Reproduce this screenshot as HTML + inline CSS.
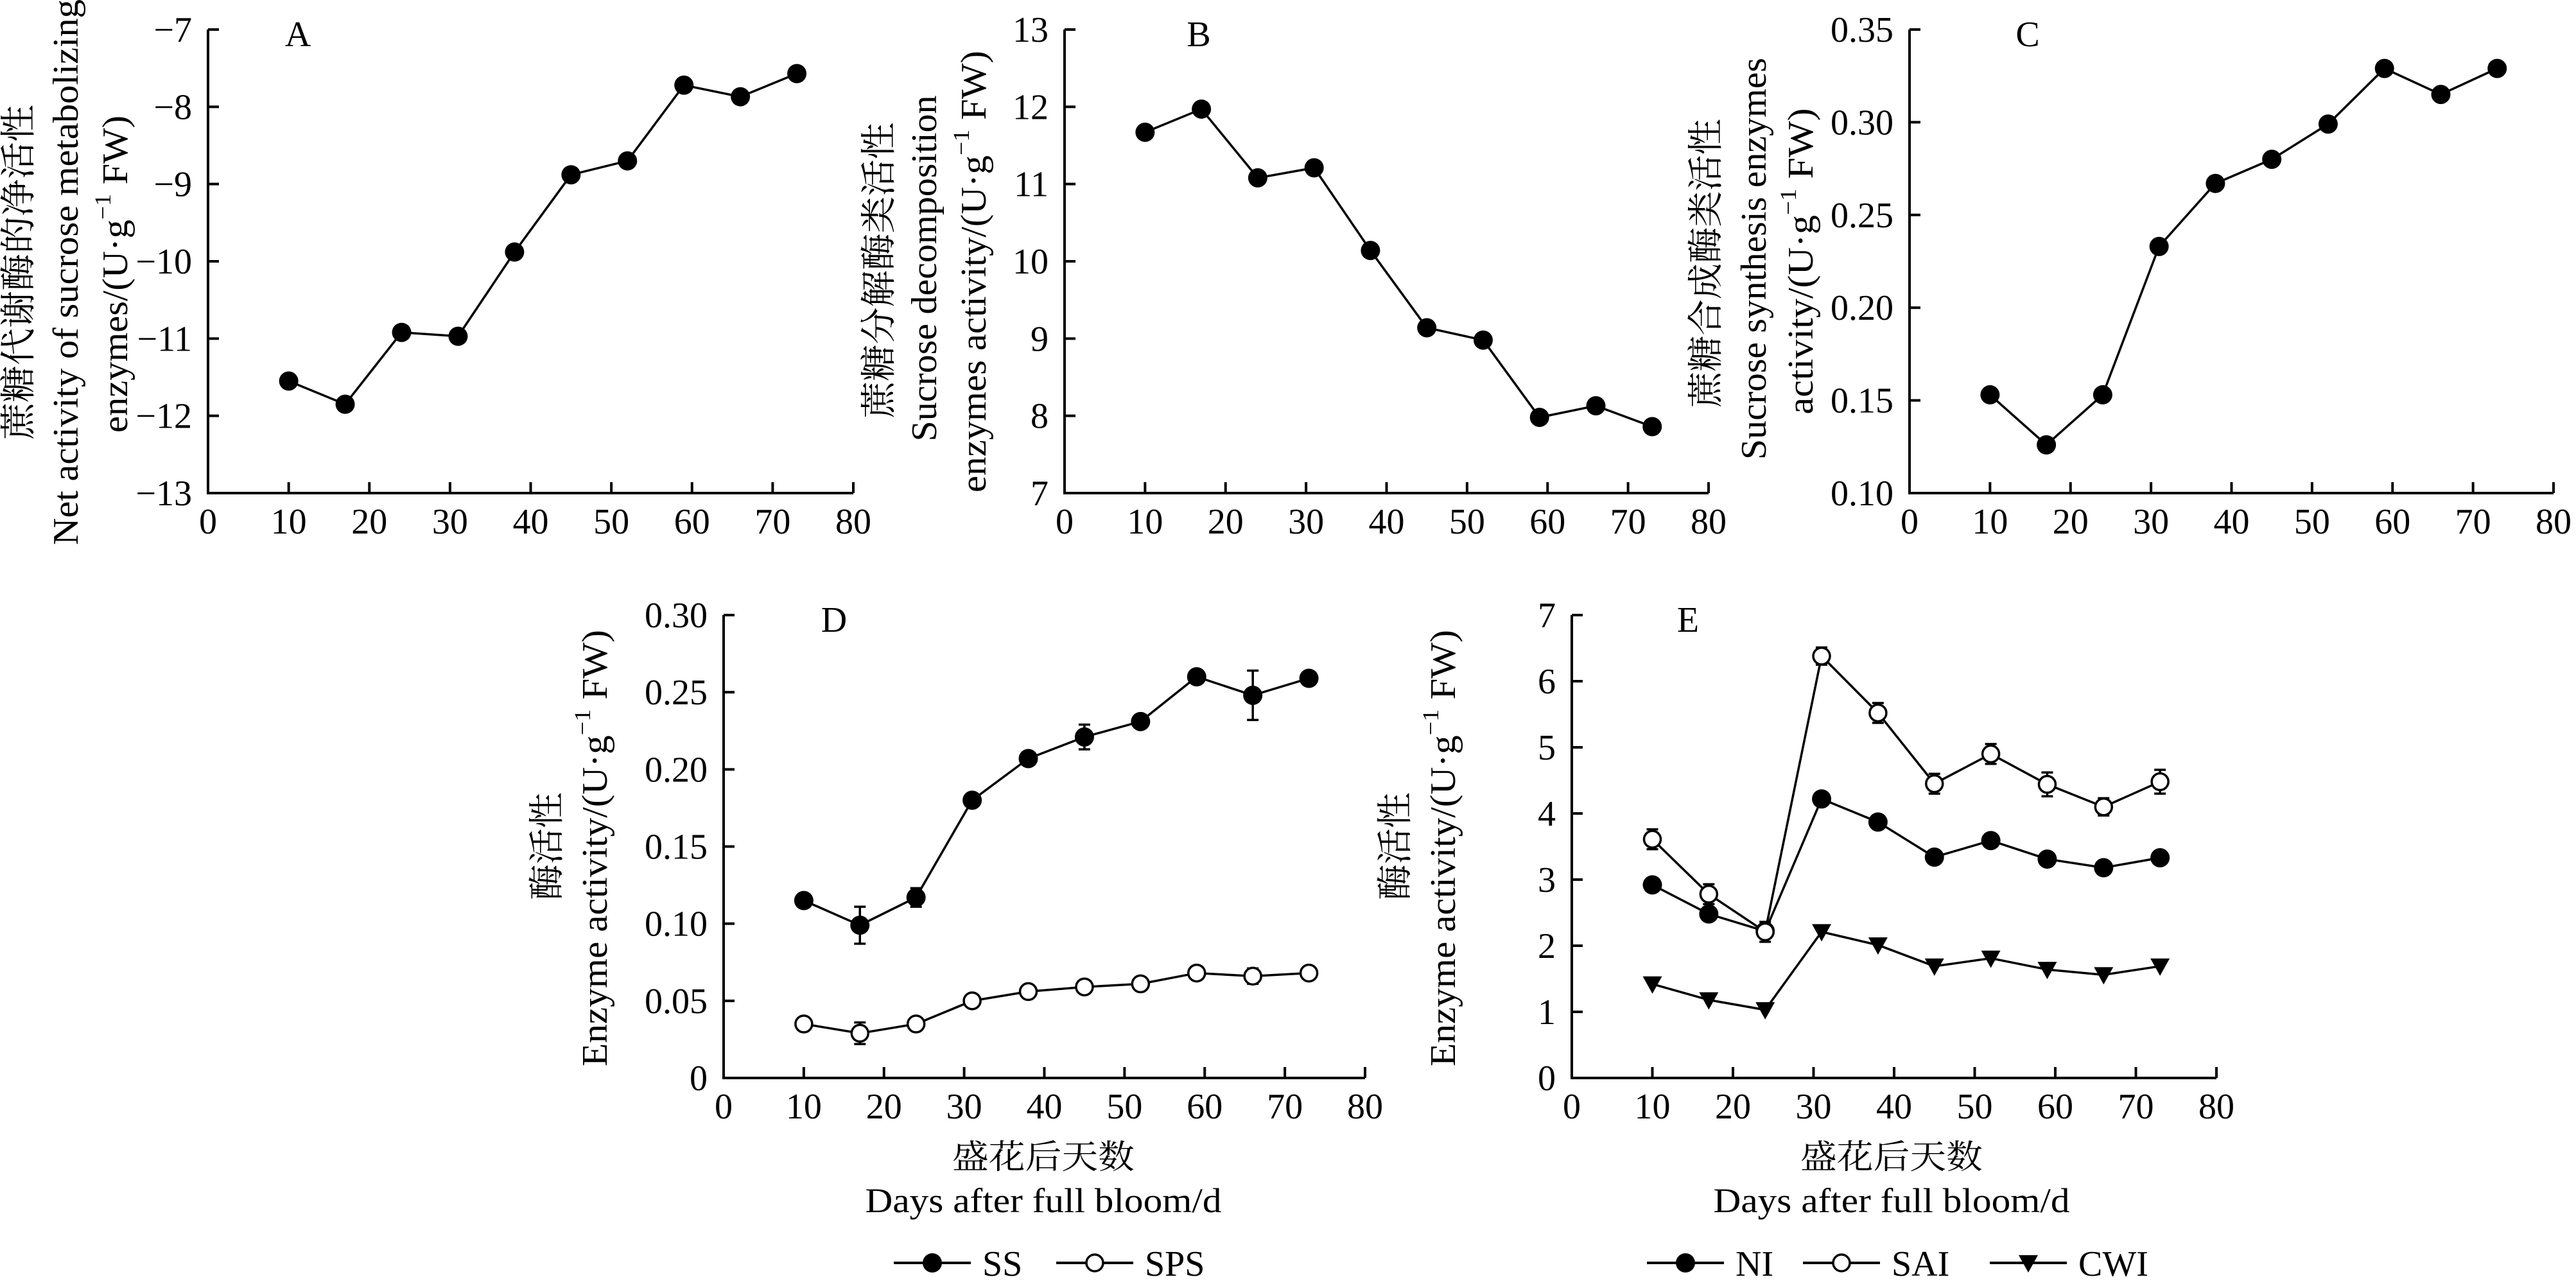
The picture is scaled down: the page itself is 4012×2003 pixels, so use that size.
<!DOCTYPE html>
<html><head><meta charset="utf-8">
<style>
html,body{margin:0;padding:0;background:#fff;}
svg{display:block;}
text{font-family:"Liberation Serif","Noto Serif CJK SC","Noto Sans CJK SC",serif;fill:#000;}
</style></head>
<body>
<svg id="fig" xmlns="http://www.w3.org/2000/svg" width="4012" height="2003" viewBox="0 0 4012 2003">
<rect width="4012" height="2003" fill="#fff"/>
</svg>
<script>
// ---- data ----
const days = [10,17,24,31,38,45,52,59,66,73];
const xTicks = [0,10,20,30,40,50,60,70,80];
const netVals = [-11.55,-11.85,-10.92,-10.97,-9.88,-8.88,-8.70,-7.72,-7.87,-7.57];
const netTicks = [-13,-12,-11,-10,-9,-8,-7];
const decVals = [11.67,11.97,11.08,11.21,10.14,9.14,8.98,7.98,8.13,7.86];
const decTicks = [7,8,9,10,11,12,13];
const synVals = [0.153,0.126,0.153,0.233,0.267,0.280,0.299,0.329,0.315,0.329];
const synTicks = [0.10,0.15,0.20,0.25,0.30,0.35];
const ssVals = [0.115,0.099,0.117,0.180,0.207,0.221,0.231,0.260,0.248,0.259];
const ssErr = [0.002,0.012,0.006,0.002,0.002,0.008,0.002,0.002,0.016,0.002];
const spsVals = [0.035,0.029,0.035,0.050,0.056,0.059,0.061,0.068,0.066,0.068];
const spsErr = [0.002,0.007,0.002,0.002,0.002,0.002,0.002,0.002,0.005,0.002];
const dTicks = [0,0.05,0.10,0.15,0.20,0.25,0.30];
const niVals = [2.92,2.48,2.22,4.22,3.87,3.34,3.59,3.31,3.18,3.33];
const niErr = [0.08,0.08,0.08,0.08,0.08,0.08,0.08,0.08,0.08,0.08];
const saiVals = [3.61,2.78,2.21,6.38,5.52,4.45,4.90,4.44,4.10,4.48];
const saiErr = [0.15,0.15,0.15,0.13,0.15,0.15,0.15,0.18,0.13,0.18];
const cwiVals = [1.42,1.18,1.03,2.21,2.01,1.69,1.81,1.64,1.56,1.69];
const eTicks = [0,1,2,3,4,5,6,7];

const NS = "http://www.w3.org/2000/svg";
const svg = document.getElementById('fig');
function mk(tag, attrs, parent){
  const e = document.createElementNS(NS, tag);
  for (const k in attrs) e.setAttribute(k, attrs[k]);
  (parent||svg).appendChild(e);
  return e;
}
function fmt(v, dec){ const s = v.toFixed(dec); return s.replace('-', '\u2212'); }

function panel(cfg){
  const g = mk('g', {});
  
  
  const X = v => cfg.x0 + (v - 0) / 80 * (cfg.x1 - cfg.x0);
  const Y = v => cfg.y1 - (v - cfg.ymin) / (cfg.ymax - cfg.ymin) * (cfg.y1 - cfg.y0);
  // axes
  const ax = mk('path', {d:`M${cfg.x0} ${cfg.y0} V${cfg.y1} H${cfg.x1}`, fill:'none', stroke:'#000', 'stroke-width':4}, g);
  
  
  // x ticks
  xTicks.forEach(t => {
    const px = X(t);
    mk('line', {x1:px, x2:px, y1:cfg.y1, y2:cfg.y1-17, stroke:'#000','stroke-width':4}, g);
    const tx = mk('text', {x:px, y:cfg.y1+63, 'text-anchor':'middle', 'font-size':56}, g);
    tx.textContent = t;
    
    
  });
  // y ticks
  cfg.ticks.forEach(t => {
    const py = Y(t);
    mk('line', {x1:cfg.x0, x2:cfg.x0+17, y1:py, y2:py, stroke:'#000','stroke-width':4}, g);
    const ty = mk('text', {x:cfg.x0-25, y:py+19, 'text-anchor':'end', 'font-size':56}, g);
    ty.textContent = (t===0) ? '0' : fmt(t, cfg.dec);
    
    
  });
  // panel letter
  const L = mk('text', {x:cfg.lx, y:cfg.y0+26, 'text-anchor':'middle', 'font-size':56}, g);
  L.textContent = cfg.letter;
  
  
  // y title lines
  cfg.title.forEach(t => {
    const te = mk('text', {transform:`translate(${t.x},${t.cy}) rotate(-90)`, 'text-anchor':'middle', 'dominant-baseline':'central', 'font-size':56, textLength:t.len, lengthAdjust:'spacingAndGlyphs'}, g);
    if (t.unit){
      te.appendChild(document.createTextNode(t.pre + '(U\u00b7g'));
      const s = mk('tspan', {dy:-20, 'font-size':36}, te); s.textContent = '\u22121';
      const s2 = mk('tspan', {dy:20}, te); s2.textContent = ' FW)';
    } else te.textContent = t.text;
    
    
  });
  // series
  cfg.series.forEach(s => {
    const sg = mk('g', {}, g);
    
    
    const pts = days.map((d,i) => [X(d), Y(s.vals[i])]);
    mk('polyline', {points: pts.map(p=>p.join(',')).join(' '), fill:'none', stroke:'#000', 'stroke-width':3.5}, sg);
    if (s.err) days.forEach((d,i) => {
      const px = X(d), a = Y(s.vals[i]+s.err[i]), b = Y(s.vals[i]-s.err[i]);
      mk('path', {d:`M${px} ${a} V${b} M${px-9} ${a} H${px+9} M${px-9} ${b} H${px+9}`, stroke:'#000', 'stroke-width':3.5, fill:'none'}, sg);
    });
    pts.forEach(p => {
      let m;
      if (s.marker === 'tri') m = mk('path', {d:`M${p[0]-15} ${p[1]-12} H${p[0]+15} L${p[0]} ${p[1]+15} Z`, fill:'#000'}, sg);
      else if (s.marker === 'open') m = mk('circle', {cx:p[0], cy:p[1], r:13, fill:'#fff', stroke:'#000', 'stroke-width':3.5}, sg);
      else m = mk('circle', {cx:p[0], cy:p[1], r:15, fill:'#000'}, sg);
      
      
    });
  });
  // x title
  if (cfg.xt){
    const c = mk('text', {x:cfg.x0+498, y:1820, 'text-anchor':'middle', 'font-size':52, textLength:284, lengthAdjust:'spacingAndGlyphs'}, g);
    c.textContent = '盛花后天数';
    
    
    const e = mk('text', {x:cfg.x0+498, y:1888, 'text-anchor':'middle', 'font-size':54, textLength:555, lengthAdjust:'spacingAndGlyphs'}, g);
    e.textContent = 'Days after full bloom/d';
    
    
  }
  // legend
  if (cfg.legend) cfg.legend.forEach(l => {
    const lg = mk('g', {}, g);
    
    
    mk('line', {x1:l.x, x2:l.x+120, y1:1967, y2:1967, stroke:'#000','stroke-width':4}, lg);
    const cx = l.x+60, cy = 1967;
    if (l.marker==='tri') mk('path', {d:`M${cx-15} ${cy-12} H${cx+15} L${cx} ${cy+15} Z`, fill:'#000'}, lg);
    else if (l.marker==='open') mk('circle', {cx, cy, r:13, fill:'#fff', stroke:'#000','stroke-width':3.5}, lg);
    else mk('circle', {cx, cy, r:15, fill:'#000'}, lg);
    const t = mk('text', {x:l.x+138, y:1987, 'font-size':56}, lg);
    t.textContent = l.label;
  });
}

panel({name:'panel-a', letter:'A', lx:464, x0:324, x1:1329, y0:46, y1:768, ymin:-13, ymax:-7, ticks:netTicks, dec:0,
  title:[{x:30, cy:424, len:522, text:'蔗糖代谢酶的净活性'},
         {x:103, cy:424, len:850, text:'Net activity of sucrose metabolizing'},
         {x:180, cy:427, len:494, unit:true, pre:'enzymes/'}],
  series:[{name:'series-net', vals:netVals, marker:'filled'}]});
panel({name:'panel-b', letter:'B', lx:1867, x0:1658, x1:2661, y0:46, y1:768, ymin:7, ymax:13, ticks:decTicks, dec:0,
  title:[{x:1370, cy:421, len:461, text:'蔗糖分解酶类活性'},
         {x:1440, cy:418, len:539, text:'Sucrose decomposition'},
         {x:1517, cy:423, len:688, unit:true, pre:'enzymes activity/'}],
  series:[{name:'series-decomposition', vals:decVals, marker:'filled'}]});
panel({name:'panel-c', letter:'C', lx:3158, x0:2974, x1:3977, y0:46, y1:768, ymin:0.10, ymax:0.35, ticks:synTicks, dec:2,
  title:[{x:2658, cy:410, len:450, text:'蔗糖合成酶类活性'},
         {x:2732, cy:403, len:626, text:'Sucrose synthesis enzymes'},
         {x:2805, cy:407, len:477, unit:true, pre:'activity/'}],
  series:[{name:'series-synthesis', vals:synVals, marker:'filled'}]});
panel({name:'panel-d', letter:'D', lx:1299, x0:1127, x1:2126, y0:958, y1:1679, ymin:0, ymax:0.30, ticks:dTicks, dec:2, xt:true,
  title:[{x:853, cy:1318, len:168, text:'酶活性'},
         {x:927, cy:1321, len:680, unit:true, pre:'Enzyme activity/'}],
  series:[{name:'series-ss', vals:ssVals, err:ssErr, marker:'filled'},
          {name:'series-sps', vals:spsVals, err:spsErr, marker:'open'}],
  legend:[{x:1392, marker:'filled', label:'SS'},{x:1645, marker:'open', label:'SPS'}]});
panel({name:'panel-e', letter:'E', lx:2629, x0:2448, x1:3452, y0:958, y1:1679, ymin:0, ymax:7, ticks:eTicks, dec:0, xt:true,
  title:[{x:2174, cy:1318, len:168, text:'酶活性'},
         {x:2248, cy:1321, len:680, unit:true, pre:'Enzyme activity/'}],
  series:[{name:'series-ni', vals:niVals, err:niErr, marker:'filled'},
          {name:'series-sai', vals:saiVals, err:saiErr, marker:'open'},
          {name:'series-cwi', vals:cwiVals, marker:'tri'}],
  legend:[{x:2565, marker:'filled', label:'NI'},{x:2808, marker:'open', label:'SAI'},{x:3099, marker:'tri', label:'CWI'}]});
</script>
</body></html>
